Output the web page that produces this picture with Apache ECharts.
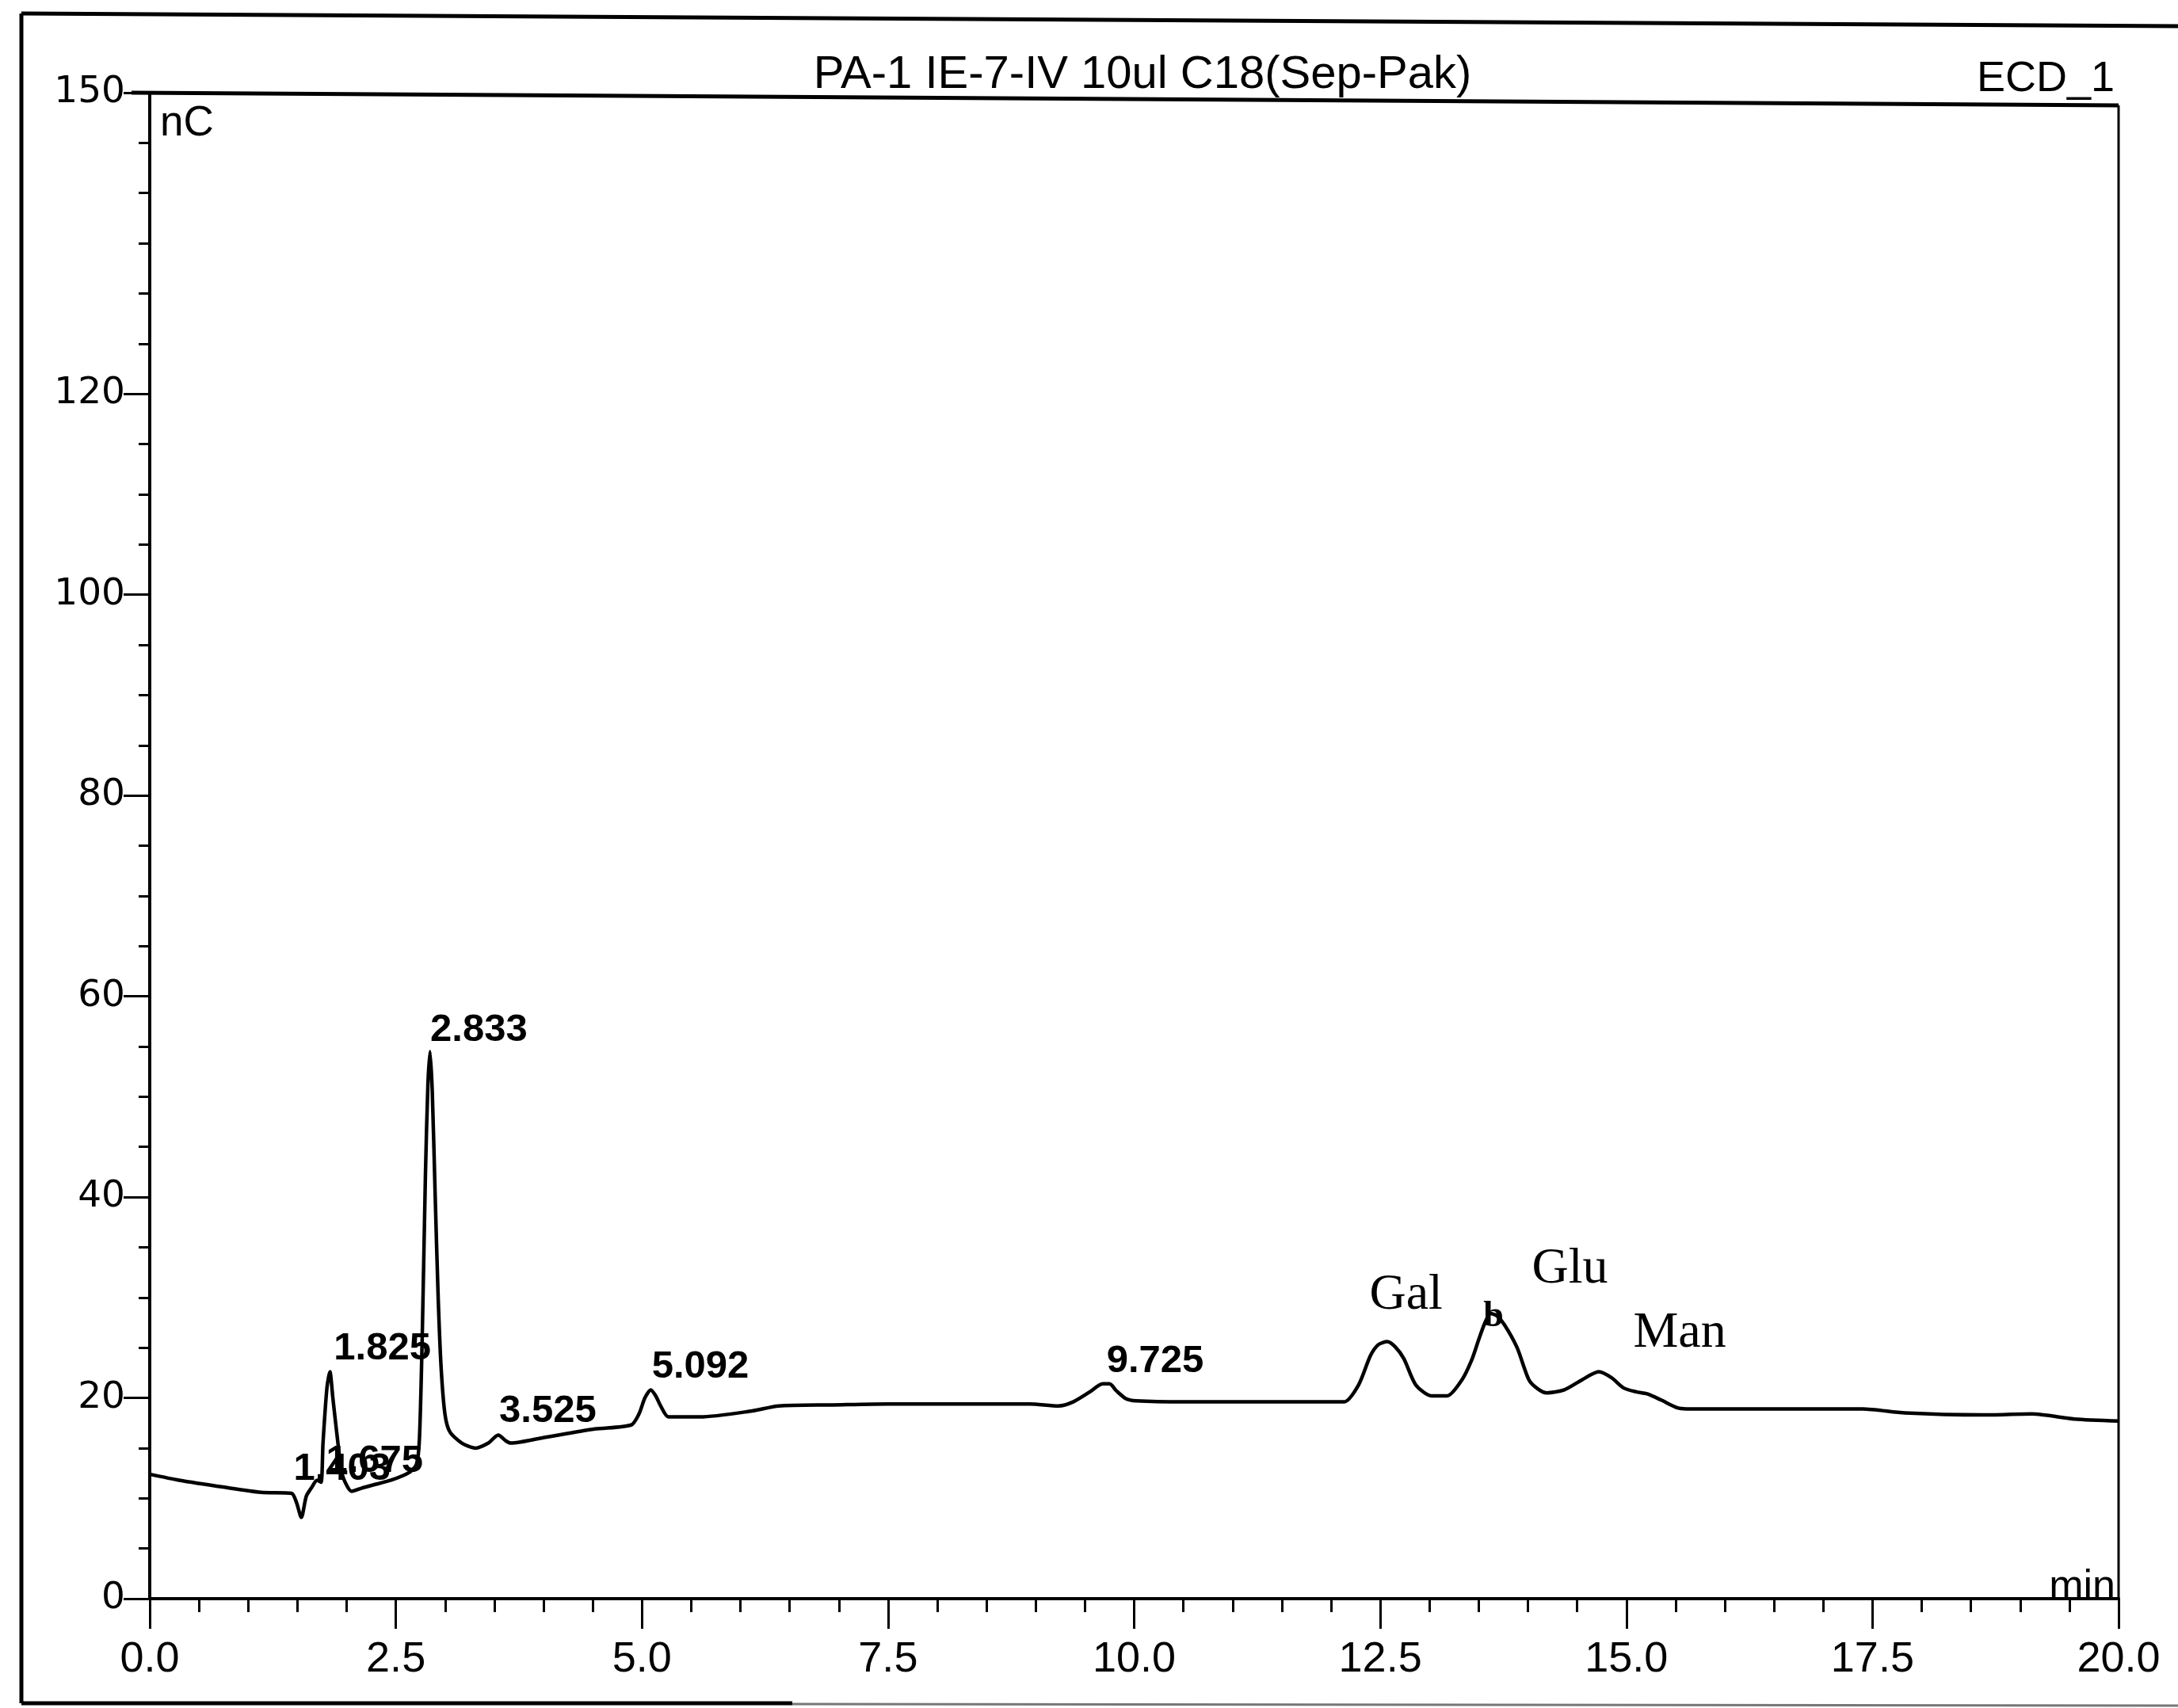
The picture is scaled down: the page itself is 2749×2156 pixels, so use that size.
<!DOCTYPE html>
<html>
<head>
<meta charset="utf-8">
<script src="https://cdn.jsdelivr.net/npm/echarts@6/dist/echarts.min.js"></script>
<style>
html,body{margin:0;padding:0;background:#fff;}
#chart{width:2749px;height:2156px;}
</style>
</head>
<body>
<div id="chart"></div>
<script>
// ---- data ----
const timeMin = [0.00,0.30,0.76,1.13,1.44,1.49,1.54,1.59,1.64,1.70,1.74,1.76,1.80,1.83,1.86,1.90,1.95,2.00,2.05,2.15,2.26,2.45,2.64,2.71,2.74,2.77,2.80,2.825,2.847,2.87,2.90,2.93,2.96,3.00,3.05,3.17,3.31,3.44,3.54,3.62,3.67,3.98,4.52,4.89,4.97,5.03,5.09,5.14,5.19,5.27,5.59,6.12,6.39,6.93,7.50,8.20,8.94,9.23,9.38,9.55,9.68,9.75,9.82,9.92,10.02,10.50,11.20,12.13,12.28,12.40,12.48,12.57,12.65,12.74,12.86,13.02,13.18,13.33,13.43,13.50,13.56,13.62,13.68,13.76,13.89,14.01,14.10,14.19,14.37,14.55,14.72,14.85,14.97,15.10,15.21,15.35,15.52,15.61,16.59,17.40,17.83,18.62,19.12,19.55,20.00];
const signalNC = [12.4,11.8,11.1,10.6,10.5,9.6,8.1,10.2,11.0,11.8,11.6,15.5,21.0,22.6,20.0,16.5,12.6,11.3,10.7,11.0,11.3,11.8,12.6,13.4,16.0,27.0,42.0,51.0,54.5,50.5,40.0,30.0,23.0,18.3,16.6,15.5,15.0,15.5,16.3,15.7,15.5,16.0,16.9,17.3,18.4,20.0,20.8,20.2,19.2,18.1,18.1,18.7,19.2,19.3,19.4,19.4,19.4,19.2,19.6,20.6,21.4,21.4,20.7,19.9,19.7,19.6,19.6,19.6,21.3,24.2,25.3,25.6,25.1,23.9,21.3,20.2,20.2,21.8,23.8,25.8,27.4,28.4,28.2,27.3,25.0,21.8,20.9,20.5,20.8,21.8,22.6,22.0,21.0,20.6,20.4,19.8,19.0,18.9,18.9,18.9,18.5,18.3,18.4,17.9,17.7];

// retention-time labels (text, anchor time, anchor value)
const rtLabelText = ['1.403','1.675','1.825','2.833','3.525','5.092','9.725'];
const rtLabelTime = [1.46,1.79,1.87,2.85,3.55,5.10,9.72];
const rtLabelValue = [12.9,13.7,24.9,56.6,18.7,23.1,23.6];

// sugar names
const sugarText = ['Gal','Glu','Man'];
const sugarTime = [12.39,14.04,15.07];
const sugarValue = [30.2,32.8,26.4];

// small peak marker
const markerText = ['b'];
const markerTime = [13.65];
const markerValue = [28.1];

// axis ticks
const xTickInterval = 2.5;
const yLabelValues = [0,20,40,60,80,100,120,150];

const chart = echarts.init(document.getElementById('chart'), null, {renderer:'canvas'});

const lineData = timeMin.map((t,i)=>[t, signalNC[i]]);
const rtData = rtLabelText.map((s,i)=>[rtLabelTime[i], rtLabelValue[i], s]);
const sugarData = sugarText.map((s,i)=>[sugarTime[i], sugarValue[i], s]);
const markerData = markerText.map((s,i)=>[markerTime[i], markerValue[i], s]);

const SANS = '"Liberation Sans", Arial, Helvetica, sans-serif';
const SERIF = '"Liberation Serif", "Times New Roman", serif';

function txt(x, y, text, font, align, valign){
  return {type:'text', x:x, y:y, silent:true,
    style:{text:text, font:font, fill:'#000', align:align, verticalAlign:valign,
           textAlign:align, textVerticalAlign:valign}};
}
function ln(x1,y1,x2,y2,w,c){
  return {type:'line', silent:true, shape:{x1:x1,y1:y1,x2:x2,y2:y2},
    style:{stroke:c||'#000', lineWidth:w}};
}
function labelSeries(data, fontSize, weight, family, align){
  return {
    type:'scatter', data:data, xAxisIndex:0, yAxisIndex:0,
    symbolSize:0, silent:true,
    itemStyle:{opacity:1},
    label:{show:true, position:[0,0], align:align, verticalAlign:'middle', opacity:1,
      formatter:(p)=>p.value[2], color:'#000', fontSize:fontSize, fontWeight:weight, fontFamily:family},
    emphasis:{disabled:true},
    z:4
  };
}

const option = {
  backgroundColor:'#fff',
  animation:false,
  grid:{left:189, right:75, top:117, bottom:138},
  xAxis:{
    type:'value', min:0, max:20, interval:xTickInterval,
    axisLine:{show:true, lineStyle:{color:'#000', width:4}},
    axisTick:{show:true, length:38, lineStyle:{color:'#000', width:3}},
    minorTick:{show:true, splitNumber:5, length:17, lineStyle:{color:'#000', width:3}},
    splitLine:{show:false}, minorSplitLine:{show:false},
    axisLabel:{show:true, margin:50, color:'#000', fontSize:54, fontFamily:SANS,
      formatter:(v)=>v.toFixed(1)}
  },
  yAxis:[
    {
      type:'value', min:0, max:150, interval:5, position:'left',
      axisLine:{show:true, onZero:false, lineStyle:{color:'#000', width:4}},
      axisTick:{show:true, length:14, lineStyle:{color:'#000', width:3}},
      axisLabel:{show:false},
      splitLine:{show:false}
    },
    {
      type:'value', min:0, max:150, position:'left',
      axisLine:{show:false},
      axisTick:{show:true, length:33, customValues:yLabelValues, lineStyle:{color:'#000', width:3}},
      axisLabel:{show:true, customValues:yLabelValues, margin:31, color:'#000',
        fontSize:47, fontFamily:'"DejaVu Sans", sans-serif'},
      splitLine:{show:false}
    }
  ],
  series:[
    {
      type:'line', data:lineData, xAxisIndex:0, yAxisIndex:0,
      showSymbol:false, smooth:0.25,
      lineStyle:{color:'#000', width:4.5},
      emphasis:{disabled:true},
      z:3
    },
    labelSeries(rtData, 49, 'bold', SANS, 'left'),
    labelSeries(sugarData, 64, 'normal', SERIF, 'left'),
    labelSeries(markerData, 46, 'bold', SERIF, 'center')
  ],
  graphic:[
    // outer frame
    ln(27,17,27,2150,5),
    ln(27,17,2749,33,5),
    ln(27,2150,1000,2150,5),
    ln(1000,2151,2749,2153,3,'#777'),
    // plot box top and right
    ln(166,117,2674,133,5),
    ln(2674,133,2674,2020,3),
    // texts
    txt(1442,95,'PA-1 IE-7-IV 10ul C18(Sep-Pak)','58px '+SANS,'center','middle'),
    txt(2669,100,'ECD_1','54px '+SANS,'right','middle'),
    txt(202,156,'nC','53px '+SANS,'left','middle'),
    txt(2670,2030,'min','52px '+SANS,'right','bottom')
  ]
};
chart.setOption(option);
</script>
</body>
</html>
